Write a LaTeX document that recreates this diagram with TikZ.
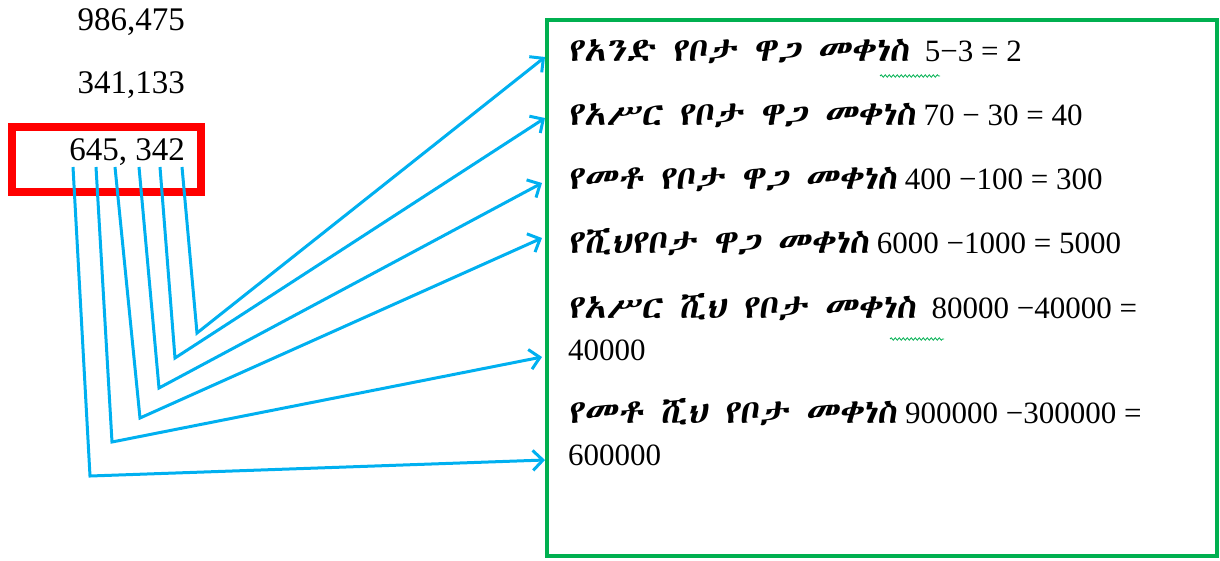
\documentclass[tikz,border=0pt]{standalone}
\usepackage{fontspec}
\setmainfont{Liberation Serif}
\usetikzlibrary{arrows.meta,decorations.pathmorphing}

% Ethiopic face: take the first one that is available
\IfFontExistsTF{Abyssinica SIL}{\newfontfamily\ethfont[FakeSlant=0.12,FakeStretch=1.1]{Abyssinica SIL}}{%
  \IfFontExistsTF{Noto Sans Ethiopic}{\newfontfamily\ethfont[FakeSlant=0.12,FakeStretch=1.1]{Noto Sans Ethiopic}}{%
    \IfFontExistsTF{FreeSerif}{\newfontfamily\ethfont[FakeSlant=0.12,FakeStretch=1.1]{FreeSerif}}{%
      \IfFontExistsTF{FreeSerif.otf}{\newfontfamily\ethfont[FakeSlant=0.12,FakeStretch=1.1]{FreeSerif.otf}}{%
        \newfontfamily\ethfont{DejaVu Sans}}}}}
\newcommand{\ethtxt}[1]{{\ethfont\fontsize{33}{36}\selectfont #1}}

\definecolor{wordblue}{HTML}{00B0F0}
\definecolor{wordgreen}{HTML}{00B050}
\definecolor{wordred}{HTML}{FF0000}

\tikzset{
  numtxt/.style={font=\fontsize{33}{36}\selectfont, inner sep=0pt, anchor=base east},
  panelbox/.style={draw=wordgreen, line width=4pt, inner sep=0pt, outer sep=0pt, anchor=north west},
  selbox/.style={draw=wordred, line width=8pt, inner sep=0pt, outer sep=0pt, anchor=north west},
  rowtxt/.style={font=\fontsize{31}{34}\selectfont, inner sep=0pt, anchor=base west},
  link/.style={draw=wordblue, line width=3pt, line join=miter,
    -{Straight Barb[length=10pt,width=20pt,line width=3pt]}},
  squiggle/.style={draw=wordgreen, line width=0.8pt,
    decorate, decoration={snake, amplitude=1.2pt, segment length=4pt}}
}

\begin{document}
\begin{tikzpicture}[x=1pt,y=-1pt]
\useasboundingbox (0,0) rectangle (1220,560);

% the three numbers, the last one framed
\node[numtxt] (n1) at (185,30) {986,475};
\node[numtxt] (n2) at (185,93) {341,133};
\node[numtxt] (n3) at (185,160) {645, 342};
\node[selbox, minimum width=189pt, minimum height=65pt] (sel) at (12,127) {};

% panel with the place-value subtractions
\node[panelbox, minimum width=670pt, minimum height=536pt] (panel) at (547,20) {};

\node[rowtxt] (r1) at (568,61) {\ethtxt{የአንድ የቦታ ዋጋ መቀነስ}\ \ 5−3 = 2};
\node[rowtxt] (r2) at (568,125) {\ethtxt{የአሥር የቦታ ዋጋ መቀነስ} 70 − 30 = 40};
\node[rowtxt] (r3) at (568,189) {\ethtxt{የመቶ የቦታ ዋጋ መቀነስ} 400 −100 = 300};
\node[rowtxt] (r4) at (568,253) {\ethtxt{የሺህየቦታ ዋጋ መቀነስ} 6000 −1000 = 5000};
\node[rowtxt] (r5) at (568,318) {\ethtxt{የአሥር ሺህ የቦታ መቀነስ}\ \ 80000 −40000 =};
\node[rowtxt] (r5b) at (568,360) {40000};
\node[rowtxt] (r6) at (568,423) {\ethtxt{የመቶ ሺህ የቦታ መቀነስ} 900000 −300000 =};
\node[rowtxt] (r6b) at (568,465) {600000};

% spelling marks under two rows
\coordinate (s1a) at (880,76);  \coordinate (s1b) at (940,76);
\coordinate (s5a) at (890,339); \coordinate (s5b) at (944,339);
\draw[squiggle] (s1a) -- (s1b);
\draw[squiggle] (s5a) -- (s5b);

% digit feet
\coordinate (d1) at (182,167);
\coordinate (d2) at (160,167);
\coordinate (d3) at (139,167);
\coordinate (d4) at (115,167);
\coordinate (d5) at (96,167);
\coordinate (d6) at (73,167);
% bends
\coordinate (b1) at (197,333);
\coordinate (b2) at (175,358);
\coordinate (b3) at (159,388);
\coordinate (b4) at (140,418);
\coordinate (b5) at (112,442);
\coordinate (b6) at (90,476);
% targets on the panel edge
\coordinate (t1) at (545,57);
\coordinate (t2) at (545,118);
\coordinate (t3) at (542,183);
\coordinate (t4) at (542,238);
\coordinate (t5) at (542,357);
\coordinate (t6) at (545,460);

\foreach \i in {1,...,6}
  \draw[link] (d\i) -- (b\i) -- (t\i);
\end{tikzpicture}
\end{document}
